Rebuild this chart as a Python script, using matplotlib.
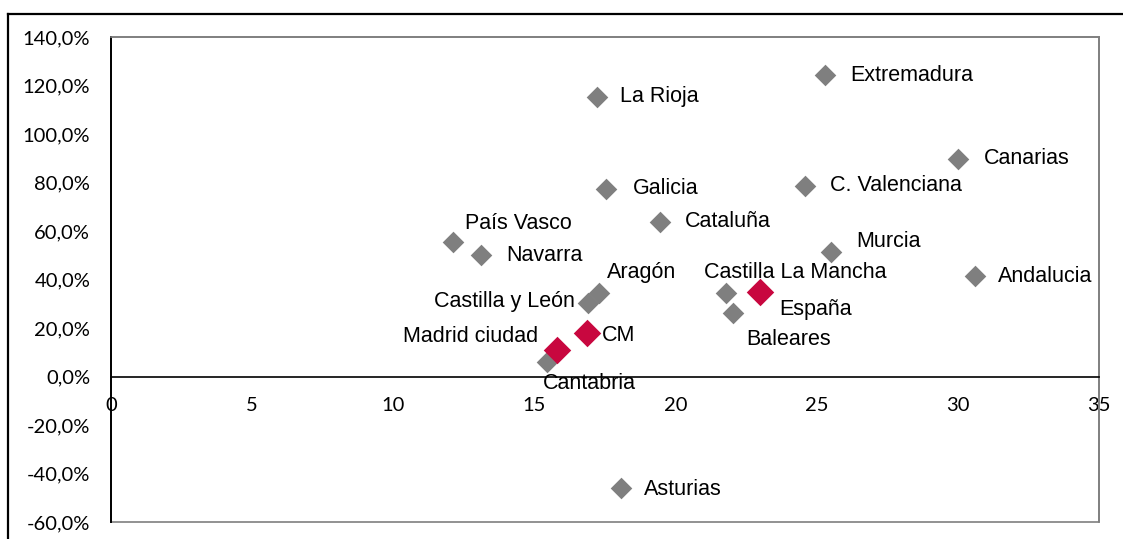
import matplotlib.pyplot as plt
from matplotlib.patches import Rectangle
from matplotlib.lines import Line2D
from matplotlib.ticker import FuncFormatter, MultipleLocator

# datos: x (eje horizontal) y variación (%)
regiones = ['Extremadura', 'La Rioja', 'Canarias', 'C. Valenciana', 'Galicia',
            'Cataluña', 'País Vasco', 'Navarra', 'Murcia', 'Andalucia', 'Aragón',
            'Castilla y León', 'Cantabria', 'Castilla La Mancha', 'Baleares', 'Asturias']
reg_x = [25.3, 17.2, 30.0, 24.6, 17.55, 19.45, 12.1, 13.1, 25.5, 30.6, 17.3,
         16.9, 15.45, 21.8, 22.05, 18.05]
reg_y = [124.3, 115.3, 89.7, 78.6, 77.5, 63.9, 55.5, 49.9, 51.3, 41.4, 34.4,
         30.3, 6.0, 34.4, 26.2, -46.0]

destacados = ['CM', 'Madrid ciudad', 'España']
dest_x = [16.85, 15.8, 23.0]
dest_y = [17.9, 10.9, 34.8]

# posicion de las etiquetas (offset en pixeles, alineacion)
etiq = {
    'Extremadura': (25, 0, 'left'), 'La Rioja': (23, 0, 'left'),
    'Canarias': (26, 0, 'left'), 'C. Valenciana': (25, 0, 'left'),
    'Galicia': (26, 0, 'left'), 'Cataluña': (25, 0, 'left'),
    'País Vasco': (12, 18, 'left'), 'Navarra': (25, 0, 'left'),
    'Murcia': (25, 11, 'left'), 'Andalucia': (23, 0, 'left'),
    'Aragón': (8, 21, 'left'), 'Castilla y León': (-13, 2, 'right'),
    'Cantabria': (-4, -22, 'left'), 'Castilla La Mancha': (-22, 21, 'left'),
    'Baleares': (13, -27, 'left'), 'Asturias': (23, -1, 'left'),
    'CM': (15, -2, 'left'), 'Madrid ciudad': (-19, 14, 'right'),
    'España': (19, -17, 'left'),
}

gris = '#7f7f7f'
rojo = '#c8073f'

fig = plt.figure(figsize=(11.23, 5.39), dpi=100)
ax = fig.add_axes([111 / 1123, 1 - 522 / 539, 988 / 1123, 485 / 539])

ax.scatter(reg_x, reg_y, marker='D', s=11 ** 2, color=gris, linewidths=0, zorder=3)
ax.scatter(dest_x, dest_y, marker='D', s=14 ** 2, color=rojo, linewidths=0, zorder=4)

for nombre, x, y in list(zip(regiones, reg_x, reg_y)) + list(zip(destacados, dest_x, dest_y)):
    dx, dy, ha = etiq[nombre]
    ax.annotate(nombre, (x, y), xytext=(dx, dy), textcoords='offset pixels',
                ha=ha, va='center', fontsize=15.5, family='Liberation Sans', zorder=5)

ax.set_xlim(0, 35)
ax.set_ylim(-60, 140)
ax.xaxis.set_major_locator(MultipleLocator(5))
ax.yaxis.set_major_locator(MultipleLocator(20))
ax.yaxis.set_major_formatter(FuncFormatter(lambda v, p: f'{v:.1f}%'.replace('.', ',')))

for s in ['top', 'right']:
    ax.spines[s].set_color(gris)
    ax.spines[s].set_linewidth(1.2)
ax.spines['left'].set_color('black')
ax.spines['left'].set_linewidth(1.4)
ax.spines['bottom'].set_position(('data', 0))
ax.spines['bottom'].set_color('black')
ax.spines['bottom'].set_linewidth(1.2)
ax.add_patch(Rectangle((0, 0), 1, 1, transform=ax.transAxes, fill=False,
                       edgecolor=gris, linewidth=1.2, zorder=1, clip_on=False))

ax.tick_params(length=0, labelsize=14.5)
ax.tick_params(axis='x', pad=15)
ax.tick_params(axis='y', pad=15)
for lab in ax.get_xticklabels() + ax.get_yticklabels():
    lab.set_family('Lato')

# borde exterior del grafico
top = 1 - 14 / 539
fig.add_artist(Line2D([8 / 1123, 1], [top, top], color='black', linewidth=1.6))
fig.add_artist(Line2D([8 / 1123, 8 / 1123], [0, top], color='black', linewidth=1.6))

fig.savefig('out.png', dpi=100)
